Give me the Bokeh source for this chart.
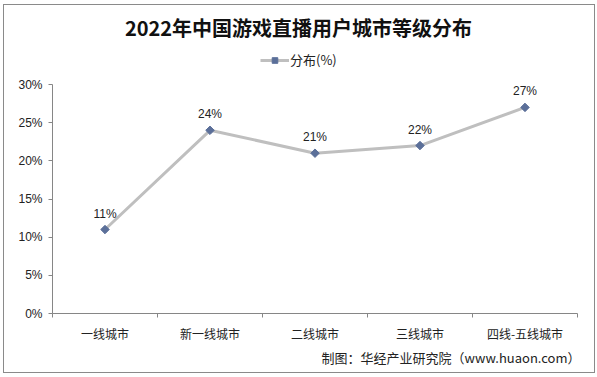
import math
from bokeh.plotting import figure
from bokeh.models import (Range1d, FixedTicker, NumeralTickFormatter, Legend, LegendItem,
                          ColumnDataSource, LabelSet, Label, Title, InlineStyleSheet)
from bokeh.core.properties import value
from bokeh.embed import file_html
from bokeh.resources import INLINE

categories = ["一线城市", "新一线城市", "二线城市", "三线城市", "四线-五线城市"]
values = [0.11, 0.24, 0.21, 0.22, 0.27]
value_labels = ["11%", "24%", "21%", "22%", "27%"]
y_ticks = [0, 0.05, 0.1, 0.15, 0.2, 0.25, 0.3]
title_text = "2022年中国游戏直播用户城市等级分布"
series_name = "分布(%)"
source_text = "制图：华经产业研究院（www.huaon.com）"

xs = [i + 0.5 for i in range(len(categories))]
src = ColumnDataSource(dict(x=xs, y=values, lab=value_labels))

CJK = "Noto Sans CJK SC"
LAT = "Liberation Sans"

# layout (pixels): axis area 0..30% spans 229px; frame extends up to leave room for title/legend
W, H = 597, 377
FRAME_L, FRAME_R, FRAME_T, FRAME_B = 52, 577, 5, 313
AXIS_PX = 229
y_top = y_ticks[-1] * (FRAME_B - FRAME_T) / AXIS_PX

p = figure(width=W, height=H, output_backend="svg", toolbar_location=None,
           x_range=Range1d(0, len(categories)), y_range=Range1d(0, y_top),
           min_border_left=FRAME_L, min_border_right=W - FRAME_R,
           min_border_top=FRAME_T, min_border_bottom=H - FRAME_B)
p.title = None
p.outline_line_color = None
p.xgrid.visible = False
p.ygrid.visible = False
p.stylesheets = [InlineStyleSheet(css=(
    ":host { position: relative; }"
    ":host::after { content: ''; position: absolute; left: 3px; top: 4px; width: 592px; "
    "height: 369px; border: 1px solid #8a8a8a; box-sizing: border-box; "
    "pointer-events: none; z-index: 1000; }"))]

axis_col = "#868686"
# x axis
p.xaxis.ticker = FixedTicker(ticks=xs, minor_ticks=list(range(len(categories) + 1)))
p.xaxis.major_label_overrides = {x: c for x, c in zip(xs, categories)}
p.xaxis.major_tick_out = 0
p.xaxis.major_tick_in = 0
p.xaxis.minor_tick_out = 4
p.xaxis.minor_tick_in = 0
p.xaxis.minor_tick_line_color = axis_col
p.xaxis.axis_line_color = axis_col
p.xaxis.major_label_text_font = CJK
p.xaxis.major_label_text_font_size = "12px"
p.xaxis.major_label_text_color = "#222222"
p.xaxis.major_label_standoff = 7
# y axis
p.yaxis.ticker = FixedTicker(ticks=y_ticks, minor_ticks=[])
p.yaxis.bounds = (y_ticks[0], y_ticks[-1])
p.yaxis.formatter = NumeralTickFormatter(format="0%")
p.yaxis.major_tick_out = 4
p.yaxis.major_tick_in = 0
p.yaxis.major_tick_line_color = axis_col
p.yaxis.axis_line_color = axis_col
p.yaxis.major_label_text_font = LAT
p.yaxis.major_label_text_font_size = "12px"
p.yaxis.major_label_text_color = "#222222"
p.yaxis.major_label_standoff = 6

line = p.line("x", "y", source=src, line_color="#bfbfbf", line_width=3)
pts = p.scatter("x", "y", source=src, marker="square", size=6, angle=math.pi / 4,
                fill_color="#5b6f99", line_color="#5b6f99")

labels = LabelSet(x="x", y="y", text="lab", source=src, text_align="center",
                  text_baseline="bottom", y_offset=9, text_font=value(LAT),
                  text_font_size=value("12px"), text_color="#222222")
p.add_layout(labels)

legend = Legend(items=[LegendItem(label=series_name, renderers=[line, pts])],
                location=(260 - FRAME_L, FRAME_B - 69), orientation="horizontal",
                background_fill_alpha=0, border_line_color=None,
                label_text_font=CJK, label_text_font_size="13px", label_text_color="#222222",
                glyph_width=29, glyph_height=14, label_standoff=1, padding=0, margin=0,
                spacing=0, label_height=14)
p.add_layout(legend)

p.add_layout(Label(x=298 - FRAME_L, y=FRAME_B - 27, x_units="screen", y_units="screen",
                   text=title_text, text_align="center", text_baseline="middle",
                   text_font=CJK, text_font_size="20px", text_font_style="bold",
                   text_color="#111111"))

p.add_layout(Title(text=source_text, align="right", text_font=CJK, text_font_size="13px",
                   text_font_style="normal", text_color="#222222", standoff=2, offset=-3),
             "below")

open("out.html", "w").write(file_html(p, INLINE))
